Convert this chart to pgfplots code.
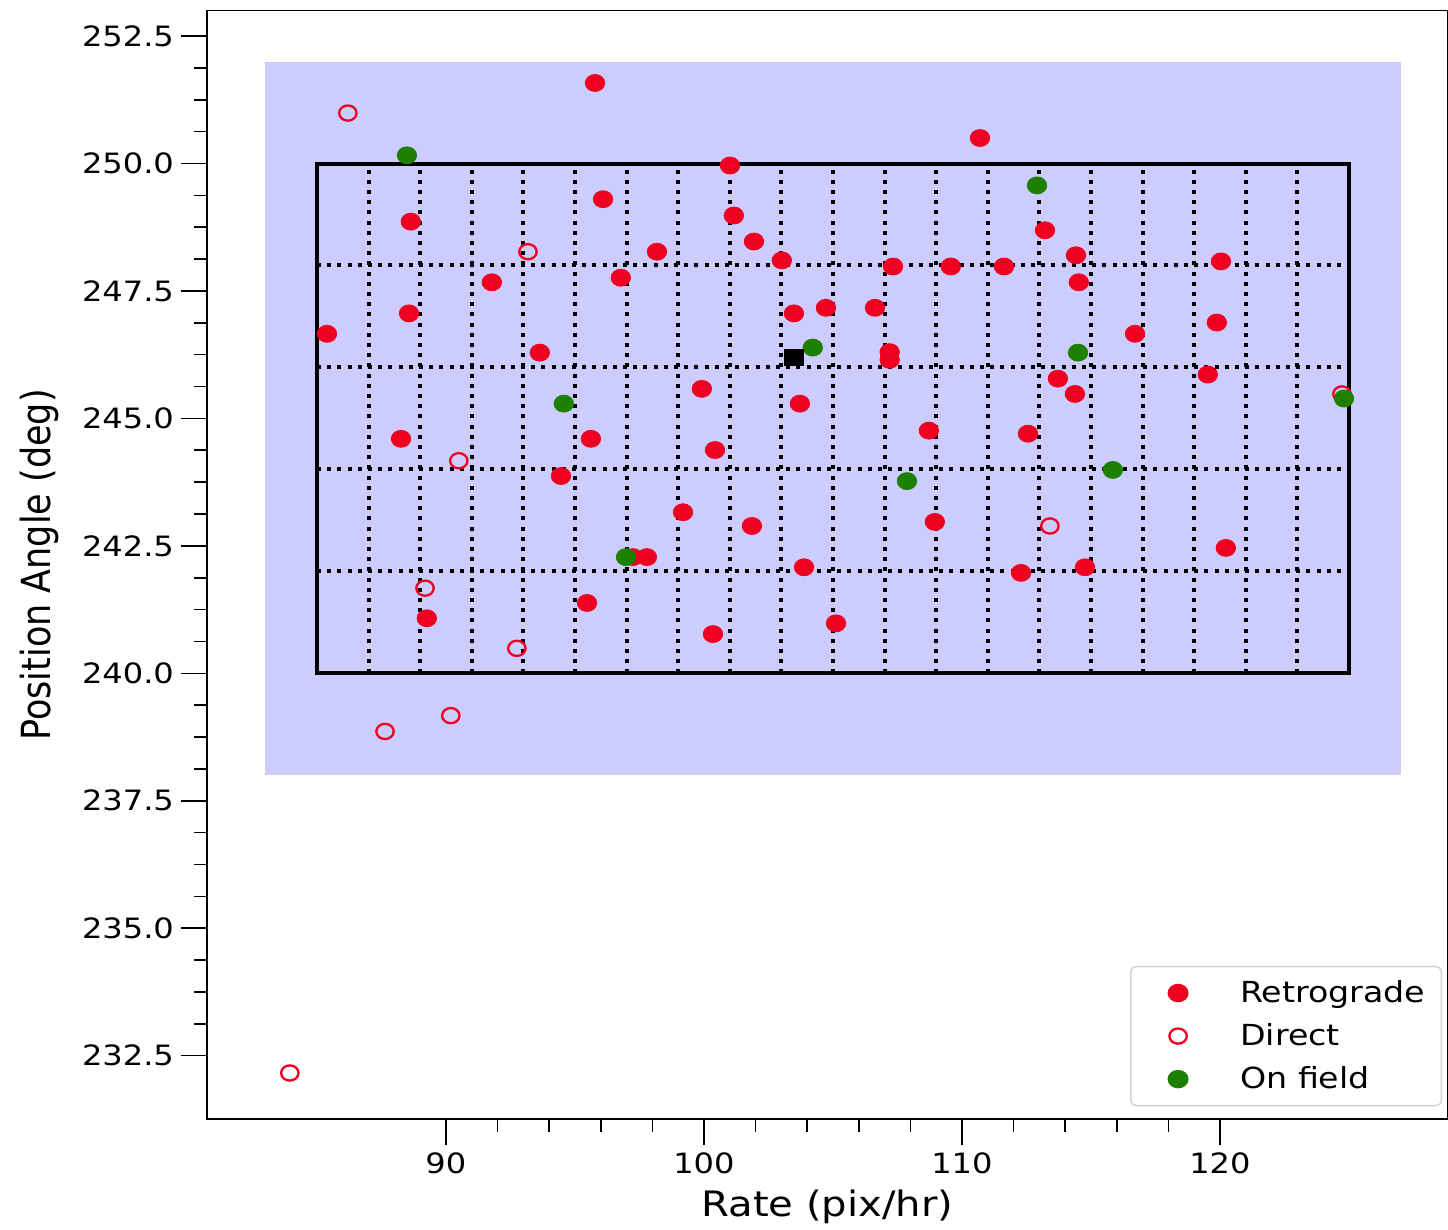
\documentclass[border=0pt]{standalone}
\usepackage{fontspec}
\setmainfont{DejaVu Sans}[FakeStretch=1.146]
\newfontfamily\plainfont{DejaVu Sans}
\usepackage{graphicx}
\usepackage{pgfplots}
\pgfplotsset{compat=1.18}
\usetikzlibrary{calc}
\definecolor{retro}{RGB}{240,0,32}
\definecolor{onfield}{RGB}{30,128,0}
\definecolor{fieldblue}{RGB}{204,204,255}
\definecolor{legendgray}{RGB}{210,210,210}

\begin{document}
\begin{tikzpicture}
\begin{axis}[
  name=ax,
  scale only axis,
  width=620.5pt, height=554.4pt,
  xmin=80.74, xmax=128.84, ymin=231.25, ymax=253.0,
  xtick={90,100,110,120}, minor x tick num=4,
  ytick={232.5,235,237.5,240,242.5,245,247.5,250,252.5}, minor y tick num=3,
  xtick pos=bottom, ytick pos=left,
  tick align=outside, major tick length=13pt, minor tick length=6.5pt,
  every tick/.style={black, line width=0.8pt},
  axis line style={line width=0.9pt},
  /pgf/number format/assume math mode=true,
  yticklabel style={/pgf/number format/.cd, fixed, fixed zerofill, precision=1},
  ticklabel style={font=\fontsize{14}{16}\selectfont},
  xlabel={Rate (pix/hr)},
  ylabel={\scalebox{1}[1.146]{\plainfont\fontsize{17.5}{20}\selectfont Position Angle (deg)}},
  every axis x label/.style={at={(axis description cs:0.5,-0.0785)}, anchor=center, font=\fontsize{17.5}{20}\selectfont},
  every axis y label/.style={at={(axis description cs:-0.135,0.5)}, anchor=center, rotate=90},
  legend style={at={(axis description cs:1,0)}, anchor=south east, xshift=-3pt, yshift=6.5pt,
    draw=legendgray, line width=0.75pt, rounded corners=2.5pt, fill=white,
    font=\fontsize{14.5}{16}\selectfont, inner xsep=6pt, inner ysep=5pt,
    row sep=5pt},
  legend cell align=left,
  legend image code/.code={\path (-17pt,0pt) (28.5pt,0pt); \draw[#1] plot coordinates {(0pt,0pt)};},
]
% observing field
\addplot[fill=fieldblue, draw=none, forget plot] coordinates {(83,238) (127,238) (127,252) (83,252)} -- cycle;

% Retrograde
\addplot[only marks, mark=*, mark size=4.25pt, color=retro, mark options={draw=retro, fill=retro, xscale=1.146}] coordinates {
(95.78,251.58) (101.01,249.96) (110.70,250.50) (88.64,248.86) (96.09,249.30)
(101.16,248.98) (98.18,248.27) (101.94,248.47) (103.02,248.10) (96.78,247.76)
(91.78,247.67) (88.57,247.06) (85.39,246.66) (93.64,246.29) (103.49,247.06)
(104.73,247.17) (106.63,247.17) (107.33,247.98) (109.57,247.98) (111.63,247.98)
(113.22,248.69) (114.42,248.20) (114.53,247.67) (120.04,248.08) (116.71,246.66)
(119.88,246.88) (119.53,245.86) (113.72,245.78) (114.38,245.48) (107.20,246.30)
(107.20,246.15) (99.92,245.58) (103.72,245.29) (88.26,244.60) (95.62,244.60)
(100.43,244.38) (108.72,244.76) (112.56,244.70) (94.46,243.87) (99.19,243.16)
(101.86,242.89) (108.95,242.97) (97.79,242.28) (97.25,242.28) (103.88,242.08)
(112.29,241.97) (114.77,242.08) (120.23,242.46) (95.47,241.38) (89.26,241.08)
(100.35,240.77) (105.12,240.98)
};
\addlegendentry{Retrograde}

% Direct
\addplot[only marks, mark=o, mark size=3.8pt, color=retro, line width=1.15pt, mark options={draw=retro, fill=none, xscale=1.146}] coordinates {
(86.20,250.99) (93.18,248.27) (90.50,244.17) (113.41,242.89) (89.19,241.67)
(92.75,240.49) (87.64,238.86) (90.19,239.17) (83.95,232.16) (124.73,245.48)
};
\addlegendentry{Direct}

% On field
\addplot[only marks, mark=*, mark size=4.25pt, color=onfield, mark options={draw=onfield, fill=onfield, xscale=1.146}] coordinates {
(88.49,250.16) (112.91,249.57) (104.22,246.39) (114.50,246.29) (94.57,245.29)
(124.81,245.39) (115.85,243.99) (107.87,243.77) (96.98,242.28)
};
\addlegendentry{On field}

% reference position
\addplot[only marks, mark=square*, mark size=4pt, color=black, forget plot, mark options={xscale=1.146}] coordinates {(103.49,246.19)};

% grid
\addplot[black, line width=2pt, dash pattern=on 2pt off 3.1pt, unbounded coords=jump, forget plot] coordinates {
(87,240) (87,250) (87,nan) (89,240) (89,250) (89,nan) (91,240) (91,250) (91,nan)
(93,240) (93,250) (93,nan) (95,240) (95,250) (95,nan) (97,240) (97,250) (97,nan)
(99,240) (99,250) (99,nan) (101,240) (101,250) (101,nan) (103,240) (103,250) (103,nan)
(105,240) (105,250) (105,nan) (107,240) (107,250) (107,nan) (109,240) (109,250) (109,nan)
(111,240) (111,250) (111,nan) (113,240) (113,250) (113,nan) (115,240) (115,250) (115,nan)
(117,240) (117,250) (117,nan) (119,240) (119,250) (119,nan) (121,240) (121,250) (121,nan)
(123,240) (123,250) (123,nan)
(85,242) (125,242) (nan,242) (85,244) (125,244) (nan,244)
(85,246) (125,246) (nan,246) (85,248) (125,248)
};
\addplot[black, line width=2pt, forget plot] coordinates {(85,240) (125,240) (125,250) (85,250)} -- cycle;

\coordinate (bl) at (rel axis cs:0,0);
\coordinate (tr) at (rel axis cs:1,1);
\end{axis}
\pgfresetboundingbox
\path[use as bounding box] ($(bl)+(-103.5pt,-54.85pt)$) rectangle ($(tr)+(0pt,5.3pt)$);
\end{tikzpicture}
\end{document}
